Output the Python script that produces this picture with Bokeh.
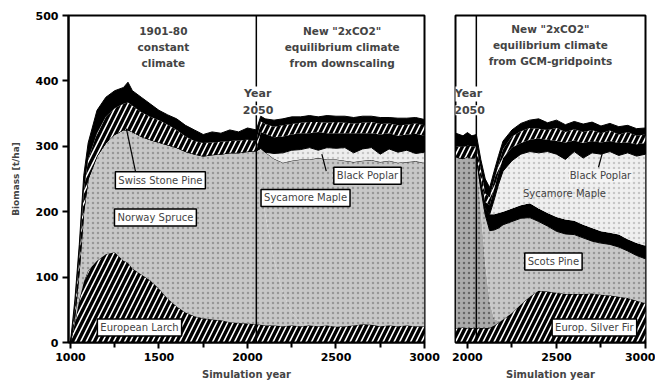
from bokeh.plotting import figure
from bokeh.layouts import row
from bokeh.models import Range1d, Span, Label, FixedTicker
from bokeh.embed import file_html
from bokeh.resources import INLINE

# ---------------- data: left panel (downscaling scenario) ----------------
years_a = [1000, 1025, 1050, 1075, 1100, 1150, 1200, 1250, 1300, 1325, 1350,
           1400, 1450, 1500, 1550, 1600, 1650, 1700, 1750, 1800, 1850, 1900,
           1950, 2000, 2050, 2075, 2100, 2150, 2200, 2250, 2300, 2350, 2400,
           2450, 2500, 2550, 2600, 2650, 2700, 2750, 2800, 2850, 2900, 2950, 3000]
larch_a = [0, 30, 65, 92, 110, 125, 135, 138, 125, 122, 113,
           104, 95, 82, 67, 55, 46, 40, 37, 35, 34, 31,
           30, 29, 28, 27, 26, 26, 25, 26, 25, 26, 25,
           26, 24, 25, 26, 28, 27, 25, 26, 25, 26, 25, 25]
spruce_a = [0, 10, 45, 108, 140, 160, 170, 180, 200, 203, 209,
            211, 215, 224, 235, 243, 246, 248, 248, 252, 254, 259,
            260, 263, 265, 230, 170, 100, 50, 20, 5, 0, 0,
            0, 0, 0, 0, 0, 0, 0, 0, 0, 0, 0, 0]
maple_a = [0, 0, 0, 0, 0, 0, 0, 0, 0, 0, 0,
           0, 0, 0, 0, 0, 0, 0, 0, 0, 0, 0,
           0, 0, 0, 40, 95, 155, 200, 232, 250, 254, 257,
           254, 256, 253, 250, 250, 252, 251, 252, 250, 250, 252, 250]
poplar_a = [0, 0, 0, 0, 0, 0, 0, 0, 0, 0, 0,
            0, 0, 0, 0, 0, 0, 0, 0, 0, 0, 0,
            0, 0, 0, 0, 0, 8, 15, 16, 15, 18, 12,
            18, 17, 20, 14, 18, 19, 12, 18, 16, 18, 12, 16]
other_a = [0, 0, 0, 0, 0, 0, 0, 0, 0, 0, 0,
           0, 0, 0, 0, 0, 0, 0, 0, 0, 0, 0,
           0, 0, 0, 25, 28, 25, 25, 24, 25, 22, 28,
           22, 23, 22, 30, 24, 22, 30, 24, 25, 24, 30, 25]
stonepine_a = [0, 10, 20, 30, 30, 35, 40, 40, 40, 42, 40,
               37, 35, 34, 31, 27, 23, 20, 20, 19, 19, 18,
               19, 18, 15, 16, 15, 16, 17, 16, 16, 17, 15,
               16, 17, 16, 15, 16, 17, 16, 15, 16, 15, 16, 16]
rest_a = [0, 15, 20, 25, 25, 35, 30, 27, 25, 31, 23,
          23, 20, 15, 15, 17, 17, 17, 13, 16, 13, 17,
          13, 18, 17, 8, 8, 10, 10, 11, 9, 10, 8,
          11, 9, 10, 9, 10, 9, 10, 9, 11, 10, 9, 9]

# ---------------- data: right panel (GCM gridpoint scenario) ----------------
years_b = [1935, 1975, 2000, 2025, 2050, 2075, 2100, 2125, 2150, 2175, 2200,
           2250, 2300, 2350, 2400, 2450, 2500, 2550, 2600, 2650, 2700, 2750,
           2800, 2850, 2900, 2950, 3000]
silverfir_b = [22, 23, 22, 22, 22, 22, 22, 22, 26, 30, 35, 45, 58, 70, 79, 78,
               76, 74, 74, 74, 75, 73, 72, 70, 68, 64, 60]
spruce_b = [262, 258, 262, 260, 261, 180, 100, 40, 10, 3, 0, 0, 0, 0, 0, 0,
            0, 0, 0, 0, 0, 0, 0, 0, 0, 0, 0]
scots_b = [0, 0, 0, 0, 0, 33, 73, 109, 136, 142, 145, 140, 132, 121, 106, 100,
           94, 92, 91, 86, 80, 79, 78, 76, 72, 69, 68]
other_b = [0, 0, 0, 0, 0, 5, 10, 25, 24, 23, 20, 20, 20, 22, 20, 20,
           22, 22, 21, 20, 20, 18, 18, 19, 18, 19, 20]
maple_b = [0, 0, 0, 0, 0, 0, 0, 0, 22, 44, 62, 73, 78, 79, 85, 94,
           96, 92, 106, 102, 115, 118, 124, 121, 132, 133, 140]
poplar_b = [0, 0, 0, 0, 0, 10, 10, 14, 17, 18, 20, 20, 17, 18, 22, 18,
            20, 26, 17, 23, 18, 18, 16, 19, 16, 18, 17]
stonepine_b = [16, 18, 17, 18, 17, 15, 13, 12, 13, 12, 14, 17, 18, 18, 15, 15,
               20, 16, 17, 17, 17, 14, 16, 13, 16, 13, 13]
rest_b = [20, 17, 20, 16, 18, 15, 22, 15, 14, 14, 12, 10, 12, 12, 15, 11,
          12, 11, 12, 12, 12, 11, 11, 12, 10, 11, 10]

x_ticks_a = [1000, 1500, 2000, 2500, 3000]
x_minor_a = [1250, 1750, 2250, 2750]
x_ticks_b = [2000, 2500, 3000]
x_minor_b = [2250, 2750]
y_ticks = [0, 100, 200, 300, 400, 500]
climate_change_year = 2050

FONT = "DejaVu Sans"

HATCH = dict(fill_color="black", hatch_pattern="/", hatch_color="white",
             hatch_scale=11, hatch_weight=1.6, hatch_alpha=1.0)
BLACK = dict(fill_color="black")


def grey(c, dots="#8a8a8a"):
    return dict(fill_color=c, hatch_pattern=".", hatch_color=dots,
                hatch_scale=5, hatch_weight=1.2, hatch_alpha=0.8)


def stack(p, years, layers):
    base = [0] * len(years)
    for vals, style, edge in layers:
        top = [b + v for b, v in zip(base, vals)]
        p.varea(x=years, y1=base, y2=top, **style)
        base = top
        if edge:
            p.line(years, top, line_color="black", line_width=1)


def style_axes(p, ticks, minor):
    p.xaxis.ticker = FixedTicker(ticks=ticks, minor_ticks=minor)
    p.yaxis.ticker = FixedTicker(ticks=y_ticks)
    for ax in p.xaxis + p.yaxis:
        ax.axis_line_width = 2
        ax.major_tick_line_width = 2
        ax.minor_tick_line_width = 2
        ax.major_tick_in = 0
        ax.major_tick_out = 6
        ax.minor_tick_in = 0
        ax.minor_tick_out = 5
        ax.major_label_text_font = FONT
        ax.major_label_text_font_style = "bold"
        ax.major_label_text_font_size = "11px"
        ax.major_label_text_color = "black"
        ax.major_label_standoff = 4
        ax.axis_label_text_font = FONT
        ax.axis_label_text_font_style = "bold"
        ax.axis_label_text_font_size = "10px"
        ax.axis_label_standoff = 5
    p.xgrid.visible = False
    p.ygrid.visible = False
    p.outline_line_color = "black"
    p.outline_line_width = 2


def add_text(p, x, y, text, bold=False, size="10px", box=False, bg=None):
    kw = dict(x=x, y=y, text=text, text_align="center", text_baseline="middle",
              text_font=FONT, text_font_size=size,
              text_font_style="bold" if bold else "normal")
    if box:
        kw.update(background_fill_color="white", border_line_color="black",
                  border_line_width=1.5, padding=3)
    elif bg:
        kw.update(background_fill_color=bg, padding=1)
    p.add_layout(Label(**kw))


# ---------------- left figure ----------------
pa = figure(output_backend="svg", toolbar_location=None,
            frame_width=356, frame_height=327,
            min_border_left=68, min_border_right=17, min_border_top=15,
            min_border_bottom=10,
            x_range=Range1d(989, 3000), y_range=Range1d(0, 500))
stack(pa, years_a, [
    (larch_a, HATCH, True),
    (spruce_a, grey("#c8c8c8"), False),
    (maple_a, grey("#c8c8c8"), True),
    (poplar_a, grey("#eeeeee", "#bbbbbb"), True),
    (other_a, BLACK, False),
    (stonepine_a, HATCH, False),
    (rest_a, BLACK, True),
])
style_axes(pa, x_ticks_a, x_minor_a)
pa.xaxis.axis_label = "Simulation year"
pa.yaxis.axis_label = "Biomass [t/ha]"
pa.yaxis.axis_label_text_font_size = "9px"
pa.yaxis.axis_label_standoff = 12
pa.add_layout(Span(location=climate_change_year, dimension="height",
                   line_color="black", line_width=1.5))

TITLE = "10.5px"
for yy, t in [(477, "1901-80"), (452, "constant"), (428, "climate")]:
    add_text(pa, 1525, yy, t, bold=True, size=TITLE)
for yy, t in [(477, 'New "2xCO2"'), (452, "equilibrium climate"),
              (428, "from downscaling")]:
    add_text(pa, 2535, yy, t, bold=True, size=TITLE)
add_text(pa, 2058, 380, "Year", bold=True, size="11px", bg="white")
add_text(pa, 2060, 355, "2050", bold=True, size="11px", bg="white")

pa.line([1367, 1316], [262, 327], line_color="black", line_width=1.2)
pa.line([2445, 2420], [262, 288], line_color="black", line_width=1.2)
add_text(pa, 1508, 248, "Swiss Stone Pine", box=True)
add_text(pa, 1480, 191, "Norway Spruce", box=True)
add_text(pa, 1390, 23, "European Larch", box=True)
add_text(pa, 2328, 221, "Sycamore Maple", box=True)
add_text(pa, 2678, 255, "Black Poplar", box=True)

# ---------------- right figure ----------------
pb = figure(output_backend="svg", toolbar_location=None,
            frame_width=190, frame_height=327,
            min_border_left=14, min_border_right=10, min_border_top=15,
            min_border_bottom=10,
            x_range=Range1d(1933, 3000), y_range=Range1d(0, 500))
stack(pb, years_b, [
    (silverfir_b, HATCH, True),
    (spruce_b, grey("#ababab", "#555555"), False),
    (scots_b, grey("#c8c8c8"), True),
    (other_b, BLACK, False),
    (maple_b, grey("#efefef", "#bbbbbb"), True),
    (poplar_b, BLACK, False),
    (stonepine_b, HATCH, False),
    (rest_b, BLACK, True),
])
style_axes(pb, x_ticks_b, x_minor_b)
pb.yaxis.visible = False
pb.xaxis.axis_label = "Simulation year"
pb.add_layout(Span(location=climate_change_year, dimension="height",
                   line_color="black", line_width=1.5))
for yy, t in [(479, 'New "2xCO2"'), (455, "equilibrium climate"),
              (431, "from GCM-gridpoints")]:
    add_text(pb, 2466, yy, t, bold=True, size=TITLE)
add_text(pb, 2006, 380, "Year", bold=True, size="11px", bg="white")
add_text(pb, 2012, 355, "2050", bold=True, size="11px", bg="white")

pb.line([2736, 2764], [268, 296], line_color="black", line_width=1.2)
add_text(pb, 2747, 255, "Black Poplar", bg="#f4f4f4")
add_text(pb, 2545, 228, "Sycamore Maple")
add_text(pb, 2483, 124, "Scots Pine", box=True)
add_text(pb, 2713, 23, "Europ. Silver Fir", box=True)

layout = row(pa, pb)
open("out.html", "w").write(file_html(layout, INLINE))
